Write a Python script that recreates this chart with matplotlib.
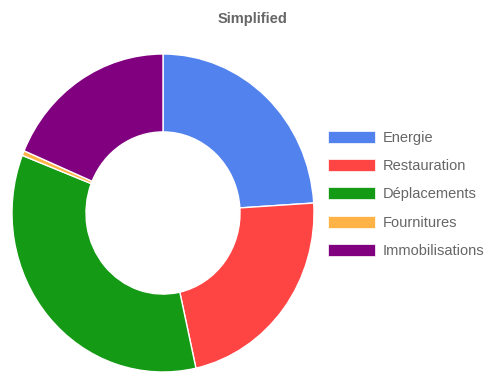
import matplotlib
matplotlib.use('Agg')
import matplotlib.pyplot as plt
from matplotlib.patches import Patch

# data (percent of total)
categories = ['Energie', 'Restauration', 'Déplacements', 'Fournitures', 'Immobilisations']
values = [24.0, 22.5, 34.4, 0.5, 18.6]
colors = ['#5282ee', '#ff4444', '#159a15', '#ffb347', '#800080']

plt.rcParams['font.family'] = ['Liberation Sans', 'DejaVu Sans']

fig = plt.figure(figsize=(4.85, 3.74), dpi=100)
ax = fig.add_axes([12/485, 2/374, 302/485, 318/374])

ax.pie(values, colors=colors, startangle=90, counterclock=False,
       wedgeprops=dict(width=0.49, edgecolor='white', linewidth=1.0))
ax.set_aspect('auto')
ax.set_xlim(-1, 1)
ax.set_ylim(-1, 1)

fig.text(253/485, 1 - 19/374, 'Simplified', ha='center', va='center',
         fontsize=10.5, fontweight='bold', color='#666666')

handles = [Patch(facecolor=c, edgecolor='white', linewidth=0.5) for c in colors]
fig.legend(handles, categories, loc='upper left',
           bbox_to_anchor=(328/485, 1 - 130.5/374), frameon=False,
           fontsize=10.5, labelcolor='#666666',
           handlelength=3.2, handleheight=0.9, handletextpad=0.55,
           labelspacing=0.98, borderaxespad=0, borderpad=0)

fig.savefig('out.png', dpi=100)
